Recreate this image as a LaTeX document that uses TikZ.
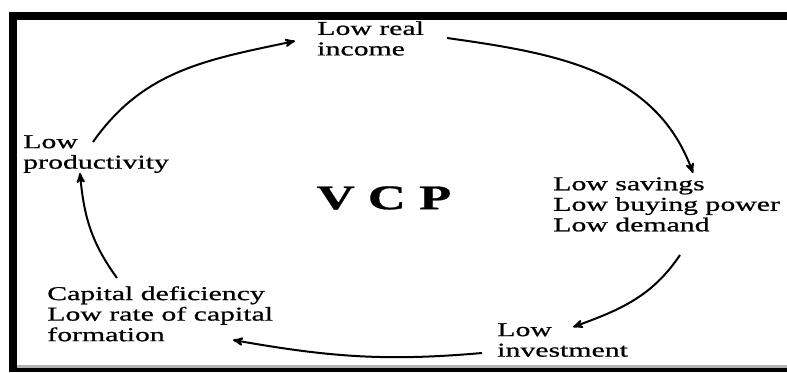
\documentclass[tikz,border=0pt]{standalone}
\usepackage{fontspec}
\setmainfont{Liberation Serif}[FakeStretch=1.52, FakeBold=0.8]
\usetikzlibrary{calc}
\usetikzlibrary{arrows}

\begin{document}
\begin{tikzpicture}[x=.75pt, y=.75pt,
  lbl/.style={anchor=north west, inner sep=0, align=left, font=\fontsize{14.7}{15.4}\selectfont},
  cyc/.style={black, line width=1.5pt, ->, >=stealth'}]
\useasboundingbox (0,0) rectangle (787,-372);
% frame
\fill[black] (9,-12) rectangle (787,-20);
\fill[black] (9,-12) rectangle (17,-372);
\fill[gray!60] (17,-365) rectangle (787,-368);
\fill[black] (9,-368) rectangle (787,-372);
% the five stages
\node[lbl] (income) at (317,-21) {Low real\\income};
\node[lbl] (savings) at (553,-177) {Low savings\\Low buying power\\Low demand};
\node[lbl] (invest) at (497,-323) {Low\\investment};
\node[lbl] (capital) at (47,-286) {Capital deficiency\\Low rate of capital\\formation};
\node[lbl] (prod) at (23,-135) {Low\\productivity};
\node[font=\fontsize{26}{26}\selectfont\bfseries] (vcp) at (384,-198) {V C P};
% the circle of arrows
\draw[cyc] ($(prod.north west)+(70,-7)$) to[out=55,in=192] ($(income.north west)+(-22,-20)$);
\draw[cyc] ($(income.north west)+(130,-17)$) to[out=-8,in=110] ($(savings.north west)+(140,4)$);
\draw[cyc] ($(savings.north west)+(127,-78)$) to[out=-124,in=20] ($(invest.north west)+(76,-4)$);
\draw[cyc] ($(invest.north west)+(-15,-30)$) to[out=185,in=-10] ($(capital.north west)+(186,-54)$);
\draw[cyc] ($(capital.north west)+(70,8)$) to[out=126,in=-85] ($(prod.north west)+(57,-38)$);
\end{tikzpicture}
\end{document}
